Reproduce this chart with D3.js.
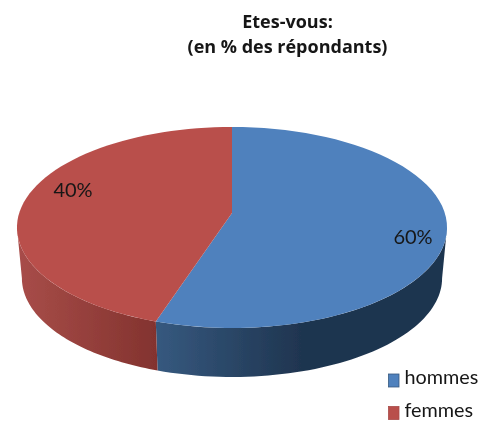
<!DOCTYPE html>
<html><head><meta charset="utf-8">
<script src="https://cdn.jsdelivr.net/npm/d3@7"></script>
<style>html,body{margin:0;padding:0;background:#fff}svg{display:block}text{font-family:Lato,"Open Sans",sans-serif;fill:#161616}text.t{font-family:"Open Sans",Lato,sans-serif}</style>
</head><body><svg id="c" width="482" height="421"></svg>
<script>
const titleLines = ["Etes-vous:", "(en % des répondants)"];
const categories = ["hommes", "femmes"];
const sliceShares = [55, 45];
const sliceLabels = ["60%", "40%"];
const topColors = ["#4f81bd", "#b94f4c"];
const wallStops = [["#36597f", "#1f3550"], ["#a84d49", "#83332f"]];

const svg = d3.select("#c");
const soft = svg.append("defs");
soft.append("filter").attr("id","soft").attr("x","-5%").attr("y","-5%").attr("width","110%").attr("height","110%")
  .append("feGaussianBlur").attr("stdDeviation",0.45);

// Tilted disc: perspective projection of the unit circle
const cx = 232, cy = 213, X = 212.8, Y = 98.4, k = 0.144;
const project = (a) => {
  const u = Math.sin(a), v = -Math.cos(a), d = 1 - k * v;
  return [cx + X * u / d, cy + Y * v / d];
};
const lower = (a) => {
  const [x, y] = project(a), v = -Math.cos(a);
  return [cx + (x - cx) * 0.977, y + 51 - 2 * Math.max(v, 0)];
};
const pie = d3.pie().sort(null)(sliceShares);
const sample = (a0, a1, fn) => d3.range(0, 61).map(i => fn(a0 + (a1 - a0) * i / 60));
const line = d3.line();
const g = svg.append("g").attr("filter","url(#soft)");
const defs = svg.select("defs");

// side walls: visible from one silhouette point of the disc to the other
const front0 = Math.acos(-k), front1 = 2 * Math.PI - front0;
pie.forEach((p, i) => {
  const a0 = Math.max(p.startAngle, front0), a1 = Math.min(p.endAngle, front1);
  const xs = sample(a0, a1, project).map(d => d[0]);
  const x0 = d3.min(xs), x1 = d3.max(xs);
  const lg = defs.append("linearGradient").attr("id", "w" + i).attr("gradientUnits","userSpaceOnUse")
    .attr("x1", x0).attr("x2", i === 0 ? x0 + 145 : x1).attr("y1",0).attr("y2",0);
  lg.append("stop").attr("offset",0).attr("stop-color", wallStops[i][0]);
  lg.append("stop").attr("offset",1).attr("stop-color", wallStops[i][1]);
  g.append("path")
    .attr("d", line([...sample(a0, a1, project), ...sample(a1, a0, lower)]) + "Z")
    .attr("fill", `url(#w${i})`);
});

// top faces
pie.forEach((p, i) => {
  g.append("path")
    .attr("d", line([[cx, cy], ...sample(p.startAngle, p.endAngle, project)]) + "Z")
    .attr("fill", topColors[i]);
});

// title
const titleY = d3.scalePoint().domain(titleLines).range([28, 52.5]);
svg.selectAll(".t").data(titleLines).join("text").attr("class","t")
  .attr("x", 287.5).attr("y", d => titleY(d)).attr("text-anchor","middle")
  .attr("font-size", 18).attr("font-weight", 700).attr("filter","url(#soft)").text(d => d);

// data labels
const labelAt = [[413, 244], [73, 197]];
svg.selectAll(".l").data(sliceLabels).join("text").attr("class","l")
  .attr("x", (d,i) => labelAt[i][0]).attr("y", (d,i) => labelAt[i][1]).attr("text-anchor","middle")
  .attr("font-size", 20).attr("filter","url(#soft)").text(d => d);

// legend
const legendY = d3.scalePoint().domain(categories).range([380.5, 413]);
const leg = svg.selectAll(".k").data(categories).join("g").attr("class","k")
  .attr("transform", d => `translate(388.5,${legendY(d)})`).attr("filter","url(#soft)");
leg.append("rect").attr("x",0).attr("y",-6.5).attr("width",10.5).attr("height",13)
  .attr("fill",(d,i)=>topColors[i]).attr("stroke",(d,i)=>wallStops[i][0]).attr("stroke-width",0.8);
leg.append("text").attr("x",16).attr("y",3.5).attr("font-size",19.8).text(d => d);
</script></body></html>
